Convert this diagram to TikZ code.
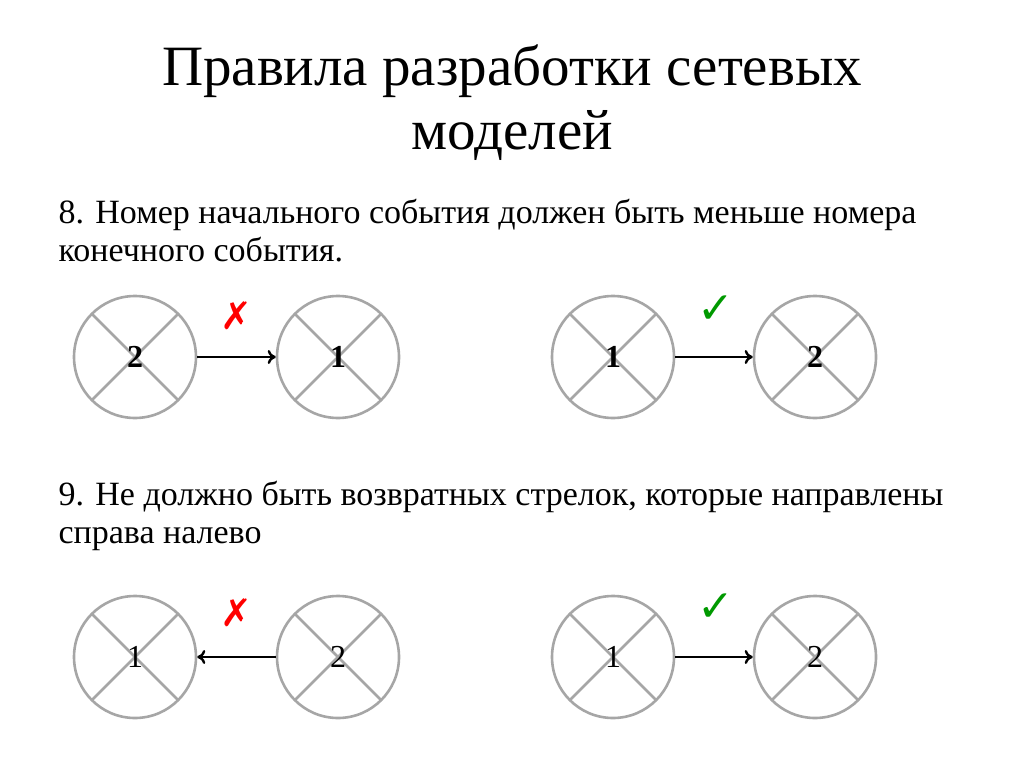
\documentclass[tikz,border=0pt]{standalone}
\usepackage{fontspec}
\setmainfont{Liberation Serif}
\newfontfamily\symfont{DejaVu Sans}
\usetikzlibrary{arrows.meta}
\begin{document}
\begin{tikzpicture}[x=1pt,y=-1pt,
  ev/.style={circle,draw=black!35,line width=2.6pt,minimum size=122pt,inner sep=0pt,font=\fontsize{32}{34}\selectfont,
    path picture={\draw[black!35,line width=2.6pt] (path picture bounding box.south west)--(path picture bounding box.north east) (path picture bounding box.north west)--(path picture bounding box.south east);}},
  ar/.style={-{To[length=8pt,width=14pt]},line width=2.4pt},
  body/.style={anchor=west,font=\fontsize{34}{38}\selectfont,align=left}]
\useasboundingbox (0,0) rectangle (1024,767);
\node[font=\fontsize{57}{64}\selectfont,align=center] (title) at (512,103) {Правила разработки сетевых\\моделей};
\node[body] (t8) at (55,231) {8. Номер начального события должен быть меньше номера\\конечного события.};
\node[body] (t9) at (55,516) {9. Не должно быть возвратных стрелок, которые направлены\\справа налево};
\node[ev] (a1) at (135,357) {\textbf{2}};
\node[ev] (a2) at (338,357) {\textbf{1}};
\node[ev] (b1) at (613,357) {\textbf{1}};
\node[ev] (b2) at (815,357) {\textbf{2}};
\node[ev] (c1) at (135,657) {1};
\node[ev] (c2) at (338,657) {2};
\node[ev] (d1) at (613,657) {1};
\node[ev] (d2) at (815,657) {2};
\draw[ar] (a1)--(a2);
\draw[ar] (b1)--(b2);
\draw[ar] (c2)--(c1);
\draw[ar] (d1)--(d2);
\node[text=red,font=\symfont\bfseries\fontsize{38}{38}\selectfont] (x1) at (236,316) {✗};
\node[text=red,font=\symfont\bfseries\fontsize{38}{38}\selectfont] (x2) at (236,613) {✗};
\node[text=green!60!black,font=\symfont\fontsize{44}{44}\selectfont] (v1) at (716,310) {✓};
\node[text=green!60!black,font=\symfont\fontsize{44}{44}\selectfont] (v2) at (716,608) {✓};
\end{tikzpicture}
\end{document}
